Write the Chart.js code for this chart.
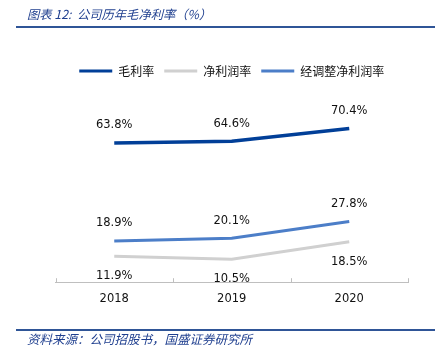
<!DOCTYPE html>
<html>
<head>
<meta charset="utf-8">
<script src="https://cdn.jsdelivr.net/npm/chart.js@4.4.0/dist/chart.umd.min.js"></script>
<style>
  html, body { margin: 0; padding: 0; background: #fff; }
  #wrap { position: relative; width: 447px; height: 357px; overflow: hidden; }
  #c { position: absolute; left: 0; top: 0; }
  .t { position: absolute; font-family: "Noto Sans CJK SC", sans-serif; font-style: italic; color: #1f3f8f; white-space: nowrap; }
  .rule { position: absolute; left: 16px; width: 419px; height: 2px; background: #2f5597; }
</style>
</head>
<body>
<div id="wrap">
  <canvas id="c" width="447" height="357"></canvas>
  <div class="t" style="left:27px; top:5px; font-size:12.3px; line-height:18px;">图表 12:&nbsp; 公司历年毛净利率（%）</div>
  <div class="rule" style="top:26px;"></div>
  <div class="rule" style="top:329px;"></div>
  <div class="t" style="left:27px; top:330px; font-size:12.5px; line-height:18px;">资料来源：公司招股书，国盛证券研究所</div>
</div>
<script>
const categories = ['2018', '2019', '2020'];
const grossMargin = [63.8, 64.6, 70.4];
const netMargin = [11.9, 10.5, 18.5];
const adjustedNetMargin = [18.9, 20.1, 27.8];
const seriesNames = ['毛利率', '净利润率', '经调整净利润率'];

const labelFont = '11.5px "DejaVu Sans"';

const dataLabels = {
  id: 'dataLabels',
  afterDatasetsDraw(chart) {
    const ctx = chart.ctx;
    ctx.save();
    ctx.font = labelFont;
    ctx.fillStyle = '#111';
    ctx.textAlign = 'center';
    ctx.textBaseline = 'middle';
    chart.data.datasets.forEach((ds, i) => {
      const meta = chart.getDatasetMeta(i);
      meta.data.forEach((pt, j) => {
        const off = ds.labelBelow ? 20 : -17.5;
        ctx.fillText(ds.data[j].toFixed(1) + '%', pt.x, pt.y + off);
      });
    });
    ctx.restore();
  }
};

const innerTicks = {
  id: 'innerTicks',
  afterDraw(chart) {
    const xs = chart.scales.x;
    const ctx = chart.ctx;
    ctx.save();
    ctx.strokeStyle = '#bfbfbf';
    ctx.lineWidth = 1;
    const y = chart.chartArea.bottom;
    for (let i = 0; i <= categories.length; i++) {
      const x = Math.round(xs.getPixelForValue(i - 0.5)) + 0.5;
      ctx.beginPath();
      ctx.moveTo(x, y);
      ctx.lineTo(x, y - 4);
      ctx.stroke();
    }
    ctx.restore();
  }
};

const legendGap = {
  id: 'legendGap',
  beforeInit(chart) {
    const fit = chart.legend.fit;
    chart.legend.fit = function () {
      fit.call(this);
      this.height += 20.5;
    };
  }
};

new Chart(document.getElementById('c'), {
  type: 'line',
  data: {
    labels: categories,
    datasets: [
      { label: seriesNames[0], data: grossMargin, borderColor: '#013f98', backgroundColor: '#013f98', borderWidth: 3.5 },
      { label: seriesNames[1], data: netMargin, borderColor: '#d0d0d0', backgroundColor: '#d0d0d0', borderWidth: 3, labelBelow: true },
      { label: seriesNames[2], data: adjustedNetMargin, borderColor: '#4c7ec8', backgroundColor: '#4c7ec8', borderWidth: 3 }
    ]
  },
  options: {
    responsive: false,
    animation: false,
    devicePixelRatio: 1,
    layout: { padding: { left: 55.5, right: 39, top: 55, bottom: 41 } },
    elements: { point: { radius: 0, hoverRadius: 0 }, line: { tension: 0, borderCapStyle: 'butt' } },
    plugins: {
      tooltip: { enabled: false },
      legend: {
        display: true,
        position: 'top',
        labels: {
          boxWidth: 33,
          boxHeight: 3,
          padding: 10,
          color: '#111',
          font: { family: '"Noto Sans CJK SC"', size: 12 },
          generateLabels(chart) {
            return chart.data.datasets.map((ds, i) => ({
              text: ds.label,
              fillStyle: ds.borderColor,
              strokeStyle: ds.borderColor,
              lineWidth: 0,
              hidden: false,
              datasetIndex: i,
              fontColor: '#111'
            }));
          }
        }
      }
    },
    scales: {
      x: {
        offset: true,
        grid: { display: true, drawOnChartArea: false, drawTicks: false },
        border: { display: true, color: '#bfbfbf', width: 1 },
        ticks: { color: '#111', padding: 10, font: { family: '"DejaVu Sans"', size: 11.5 } }
      },
      y: { display: false, min: 0, max: 80 }
    }
  },
  plugins: [dataLabels, innerTicks, legendGap]
});
</script>
</body>
</html>
